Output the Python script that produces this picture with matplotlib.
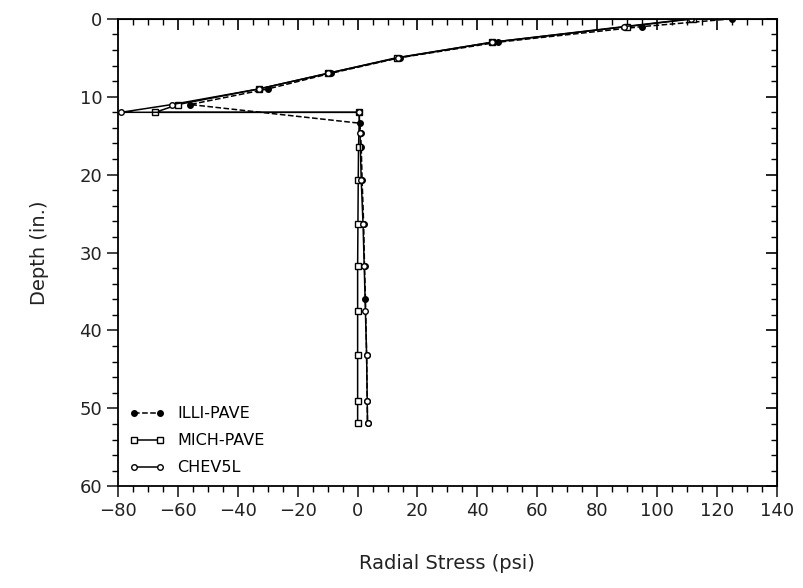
import numpy as np
import matplotlib
matplotlib.use("Agg")
import matplotlib.pyplot as plt
from matplotlib.ticker import MultipleLocator

# ILLI-PAVE (finite element, filled circles, dashed)
illi_depth = [0, 1, 3, 5, 7, 9, 11, 13.4, 14.7, 16.5, 20.7, 26.3, 31.7, 35.9, 43.2, 49.0, 51.9]
illi_stress = [125, 95, 47, 14, -9, -30, -56, 0.7, 1.0, 1.2, 1.5, 2.0, 2.3, 2.6, 3.0, 3.2, 3.3]

# MICH-PAVE (squares)
mich_depth = [0, 1, 3, 5, 7, 9, 11, 12, 12, 16.5, 20.7, 26.3, 31.7, 37.5, 43.2, 49.0, 51.9]
mich_stress = [112, 90, 45, 13, -10, -33, -60, -67.6, 0.6, 0.3, 0.2, 0.1, 0.0, 0.0, 0.0, 0.0, 0.0]

# CHEV5L (open circles)
chev_depth = [0, 1, 3, 5, 7, 9, 11, 12, 12, 14.7, 20.7, 26.3, 31.7, 37.5, 43.2, 49.0, 51.9]
chev_stress = [111.5, 89, 45, 13.5, -10, -33, -62, -79, 0.5, 0.8, 1.2, 1.8, 2.2, 2.6, 3.0, 3.2, 3.3]

plt.rcParams['font.family'] = ['DejaVu Sans']

fig = plt.figure(figsize=(8.04, 5.88), dpi=100)
ax = fig.add_axes([0.147, 0.173, 0.819, 0.795])

ax.plot(illi_stress, illi_depth, color='black', linestyle='--', linewidth=1.1,
        marker='o', markersize=4, markerfacecolor='black', label='ILLI-PAVE')
ax.plot(mich_stress, mich_depth, color='black', linestyle='-', linewidth=1.1,
        marker='s', markersize=4, markerfacecolor='white', label='MICH-PAVE')
ax.plot(chev_stress, chev_depth, color='black', linestyle='-', linewidth=1.1,
        marker='o', markersize=4, markerfacecolor='white', label='CHEV5L')

ax.set_xlim(-80, 140)
ax.set_ylim(60, 0)
ax.xaxis.set_major_locator(MultipleLocator(20))
ax.xaxis.set_minor_locator(MultipleLocator(5))
ax.yaxis.set_major_locator(MultipleLocator(10))
ax.yaxis.set_minor_locator(MultipleLocator(2))
ax.tick_params(which='major', direction='out', length=8, width=1.2, labelsize=13, colors='#222222')
ax.tick_params(which='minor', direction='out', length=4.5, width=1)

for s in ax.spines.values():
    s.set_linewidth(1.3)

top = ax.secondary_xaxis('top')
top.xaxis.set_major_locator(MultipleLocator(20))
top.xaxis.set_minor_locator(MultipleLocator(5))
top.tick_params(which='major', direction='in', length=8, width=1.2, labeltop=False)
top.tick_params(which='minor', direction='in', length=4.5, width=1)

right = ax.secondary_yaxis('right')
right.yaxis.set_major_locator(MultipleLocator(10))
right.yaxis.set_minor_locator(MultipleLocator(2))
right.tick_params(which='major', direction='in', length=8, width=1.2, labelright=False)
right.tick_params(which='minor', direction='in', length=4.5, width=1)

ax.set_xlabel('Radial Stress (psi)', fontsize=14, labelpad=24, color='#222222')
ax.set_ylabel('Depth (in.)', fontsize=14, labelpad=22, color='#222222')

ax.legend(loc='lower left', bbox_to_anchor=(0.0, 0.0), frameon=False, numpoints=2,
          handlelength=2.2, labelspacing=0.75, fontsize=11.5, borderaxespad=0.3)

fig.savefig('out.png', dpi=100)
